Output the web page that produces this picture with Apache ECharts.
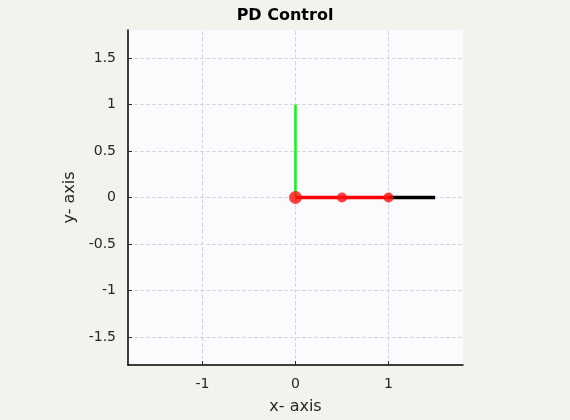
<!DOCTYPE html>
<html><head><meta charset="utf-8">
<script src="https://cdn.jsdelivr.net/npm/echarts@6/dist/echarts.min.js"></script>
<style>html,body{margin:0;background:#f3f3ee}#c{width:570px;height:420px}</style>
</head><body><div id="c"></div>
<script>
const xTicks=[-1,0,1];
const yTicks=[-1.5,-1,-0.5,0,0.5,1,1.5];
const greenLine=[[0,0],[0,1]];
const redLine=[[0,0],[1,0]];
const blackLine=[[1,0],[1.5,0]];
const joints=[[0,0,'big'],[0.5,0,'small'],[1,0,'small']];
const fmt=v=>String(v);
const chart=echarts.init(document.getElementById('c'));
const lab={fontFamily:'DejaVu Sans',fontSize:14,color:'#262626',margin:12};
chart.setOption({
 backgroundColor:'#f3f3ee',animation:false,
 title:{text:'PD Control',left:'center',top:3,textStyle:{fontFamily:'DejaVu Sans',fontSize:16,fontWeight:'bold',color:'#000'}},
 grid:{left:128,right:107,top:30,bottom:54,show:true,backgroundColor:'#fbfbfe',borderWidth:0},
 xAxis:{type:'value',min:-1.8,max:1.8,name:'x- axis',nameLocation:'middle',nameGap:34,
  nameTextStyle:{fontFamily:'DejaVu Sans',fontSize:16,color:'#262626'},
  axisLine:{show:true,onZero:false,lineStyle:{color:'#000',width:1.5}},splitLine:{show:false},
  axisTick:{show:true,inside:true,length:4,customValues:xTicks,lineStyle:{color:'#262626'}},
  axisLabel:Object.assign({customValues:xTicks,formatter:fmt},lab)},
 yAxis:{type:'value',min:-1.8,max:1.8,name:'y- axis',nameLocation:'middle',nameGap:50,
  nameTextStyle:{fontFamily:'DejaVu Sans',fontSize:16,color:'#262626'},
  axisLine:{show:true,onZero:false,lineStyle:{color:'#000',width:1.5}},splitLine:{show:false},
  axisTick:{show:true,inside:true,length:4,customValues:yTicks,lineStyle:{color:'#262626'}},
  axisLabel:Object.assign({customValues:yTicks,formatter:fmt},lab)},
 series:[
  {type:'line',data:[],silent:true,z:0,markLine:{symbol:'none',silent:true,z:0,label:{show:false},
    lineStyle:{color:'#d6d6e0',type:'dashed',width:1},
    data:xTicks.map(v=>({xAxis:v})).concat(yTicks.map(v=>({yAxis:v})))}},
  {type:'line',z:3,data:greenLine,symbol:'none',lineStyle:{color:'#00ff00',width:2.5}},
  {type:'line',z:3,data:redLine,symbol:'none',lineStyle:{color:'#ff0000',width:3.5}},
  {type:'line',z:4,data:blackLine,symbol:'none',lineStyle:{color:'#000',width:3.5}},
  {type:'scatter',z:5,data:joints,symbolSize:p=>p[2]==='big'?13:10,itemStyle:{color:'#ff1010'}}
 ]
});
</script></body></html>
